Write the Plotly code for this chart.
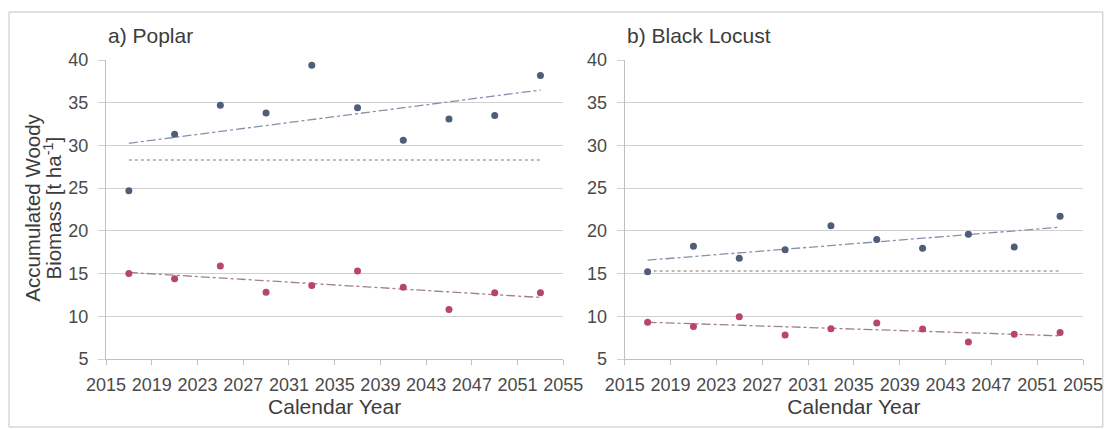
import numpy as np
import plotly.graph_objects as go

# ---- data ----
years = [2017, 2021, 2025, 2029, 2033, 2037, 2041, 2045, 2049, 2053]
poplar_upper = [24.7, 31.3, 34.7, 33.8, 39.4, 34.4, 30.6, 33.1, 33.5, 38.2]
poplar_lower = [15.0, 14.4, 15.9, 12.8, 13.6, 15.3, 13.4, 10.8, 12.75, 12.75]
locust_upper = [15.2, 18.2, 16.8, 17.8, 20.6, 19.0, 17.95, 19.6, 18.1, 21.7]
locust_lower = [9.3, 8.8, 9.95, 7.8, 8.55, 9.2, 8.5, 7.0, 7.9, 8.1]
baseline = [28.3, 15.3]          # dotted reference level (poplar, black locust)
panel_titles = ["a) Poplar", "b) Black Locust"]
x_ticks = list(range(2015, 2056, 4))
y_ticks = list(range(5, 41, 5))

# ---- geometry (pixels) ----
W, H = 1115, 429
ML, MR, MT, MB = 106, 22, 60, 70
PW = W - ML - MR
PH = H - MT - MB
def px_x(p): return (p - ML) / PW
def px_y(p): return (H - MB - p) / PH

UP_COL = "#4f5d78"
LO_COL = "#b8456a"
UP_TREND = "#8592aa"
LO_TREND = "#a0808c"
BASE_COL = "#a8a4a0"
GRID = "#d0d0d0"
TICKTXT = "#4a4a4a"
TITLETXT = "#3c3c3c"
FONT = "Liberation Sans, Arial, sans-serif"

fig = go.Figure()

panels = [
    ("x", "y", poplar_upper, poplar_lower, baseline[0]),
    ("x2", "y2", locust_upper, locust_lower, baseline[1]),
]
xs = np.array(years, dtype=float)
for xa, ya, up, lo, base in panels:
    # baseline dotted
    fig.add_trace(go.Scatter(x=[years[0], years[-1]], y=[base, base], mode="lines",
                             line=dict(color=BASE_COL, width=1.6, dash="dot"),
                             xaxis=xa, yaxis=ya, showlegend=False, hoverinfo="skip"))
    for vals, tcol, mcol in ((up, UP_TREND, UP_COL), (lo, LO_TREND, LO_COL)):
        k, b = np.polyfit(xs, np.array(vals), 1)
        fig.add_trace(go.Scatter(x=[years[0], years[-1]],
                                 y=[k * years[0] + b, k * years[-1] + b], mode="lines",
                                 line=dict(color=tcol, width=1.3, dash="dashdot"),
                                 xaxis=xa, yaxis=ya, showlegend=False, hoverinfo="skip"))
        fig.add_trace(go.Scatter(x=years, y=vals, mode="markers",
                                 marker=dict(color=mcol, size=7, symbol="circle"),
                                 xaxis=xa, yaxis=ya, showlegend=False))

left_dom = [0, px_x(568)]
right_dom = [px_x(630), 1]

xcommon = dict(range=[2015, 2055], tickvals=x_ticks, showgrid=False, showline=True,
               linecolor="#c0c0c0", linewidth=1, ticks="outside", ticklen=5,
               tickcolor="#c0c0c0", tickfont=dict(size=18, color=TICKTXT, family=FONT),
               ticklabelstandoff=4, zeroline=False,
               title=dict(text="Calendar Year", font=dict(size=21, color=TITLETXT, family=FONT),
                          standoff=5))
ycommon = dict(range=[5, 40], tickvals=y_ticks, showgrid=True, gridcolor=GRID, gridwidth=1.3,
               showline=True, linecolor="#c0c0c0", linewidth=1, ticks="outside", ticklen=7,
               tickcolor=GRID, tickfont=dict(size=18, color=TICKTXT, family=FONT),
               ticklabelstandoff=6, zeroline=False)

fig.update_layout(
    width=W, height=H,
    margin=dict(l=ML, r=MR, t=MT, b=MB),
    paper_bgcolor="white", plot_bgcolor="white",
    font=dict(family=FONT),
    xaxis=dict(domain=left_dom, anchor="y", **xcommon),
    xaxis2=dict(domain=right_dom, anchor="y2", **xcommon),
    yaxis=dict(domain=[0, 1], anchor="x", **ycommon),
    yaxis2=dict(domain=[0, 1], anchor="x2", **ycommon),
    showlegend=False,
)

# panel titles
for dom, t in ((left_dom, panel_titles[0]), (right_dom, panel_titles[1])):
    fig.add_annotation(text=t, xref="paper", yref="paper", x=dom[0], y=px_y(35),
                       xanchor="left", yanchor="middle", showarrow=False,
                       font=dict(size=21, color=TITLETXT, family=FONT))

# y-axis title, two rotated lines
fig.add_annotation(text="Accumulated Woody", xref="paper", yref="paper",
                   x=px_x(31), y=px_y(208), textangle=-90, showarrow=False,
                   xanchor="center", yanchor="middle",
                   font=dict(size=20.5, color=TITLETXT, family=FONT))
fig.add_annotation(text="Biomass [t ha<sup>-1</sup>]", xref="paper", yref="paper",
                   x=px_x(52), y=px_y(208), textangle=-90, showarrow=False,
                   xanchor="center", yanchor="middle",
                   font=dict(size=20.5, color=TITLETXT, family=FONT))

# outer frame
fig.add_shape(type="rect", xref="paper", yref="paper",
              x0=px_x(8), x1=px_x(1113), y0=px_y(427), y1=px_y(12),
              line=dict(color="#c4c4c4", width=1), fillcolor="rgba(0,0,0,0)", layer="below")

fig.write_html("out.html", config={"displayModeBar": False},
               post_script="document.body.style.margin='0';document.body.style.overflow='hidden';")
